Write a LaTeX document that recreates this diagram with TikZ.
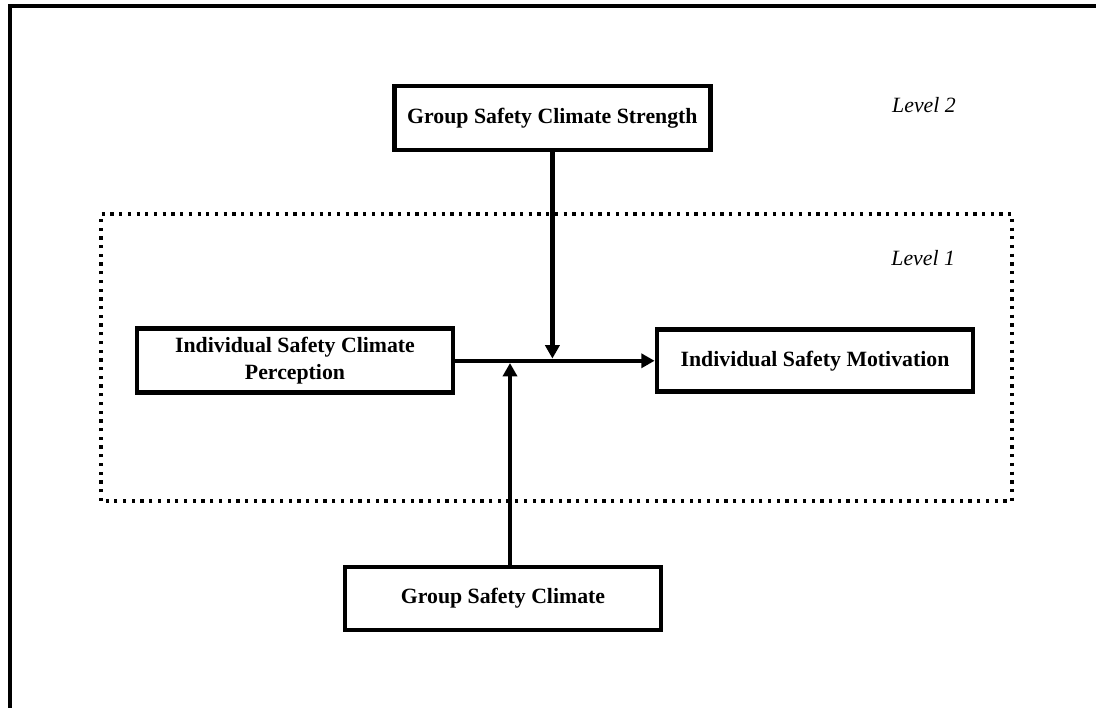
\documentclass[tikz,border=0pt]{standalone}
\usepackage{fontspec}
\setmainfont{Liberation Serif}
\usetikzlibrary{arrows.meta}

\begin{document}
\begin{tikzpicture}[
     box/.style={draw,line width=3.4pt,minimum width=7.9cm,minimum height=1.6cm,inner sep=0pt,align=center,font=\bfseries\fontsize{15.5}{19}\selectfont},
     lvl/.style={font=\itshape\fontsize{15.5}{19}\selectfont},
     link/.style={line width=3pt,-{Triangle[length=9.5pt,width=10pt]}}
   ]
   \path[use as bounding box] (0,0) rectangle (27.4,17.7);
   % Frame.
   \draw[line width=2.8pt] (0.24,0) -- (0.24,17.54) -- (27.4,17.54);
   % Level 1 region.
   \draw[line width=2.6pt,dash pattern=on 2.3pt off 3.9pt] (2.525,5.175) rectangle (25.3,12.35);
   \node[lvl] (lvltwo) at (23.1,15.08) {Level 2};
   \node[lvl] (lvlone) at (23.08,11.25) {Level 1};
   % Constructs.
   \node[box] (strength) at (13.81,14.75) {Group Safety Climate Strength};
   \node[box] (percep) at (7.375,8.68) {Individual Safety Climate\\Perception};
   \node[box,minimum height=1.55cm] (motiv) at (20.375,8.68) {Individual Safety Motivation};
   \node[box,minimum height=1.575cm] (group) at (12.575,2.74) {Group Safety Climate};
   % Paths.
   \draw[link] (percep.east) -- (motiv.west);
   \draw[link] (strength.south) -- ([yshift=1.6pt]strength.south |- percep.east);
   \draw[link] ([xshift=1.75mm]group.north) -- ([xshift=1.75mm,yshift=-1.6pt]group.north |- percep.east);
\end{tikzpicture}
\end{document}
